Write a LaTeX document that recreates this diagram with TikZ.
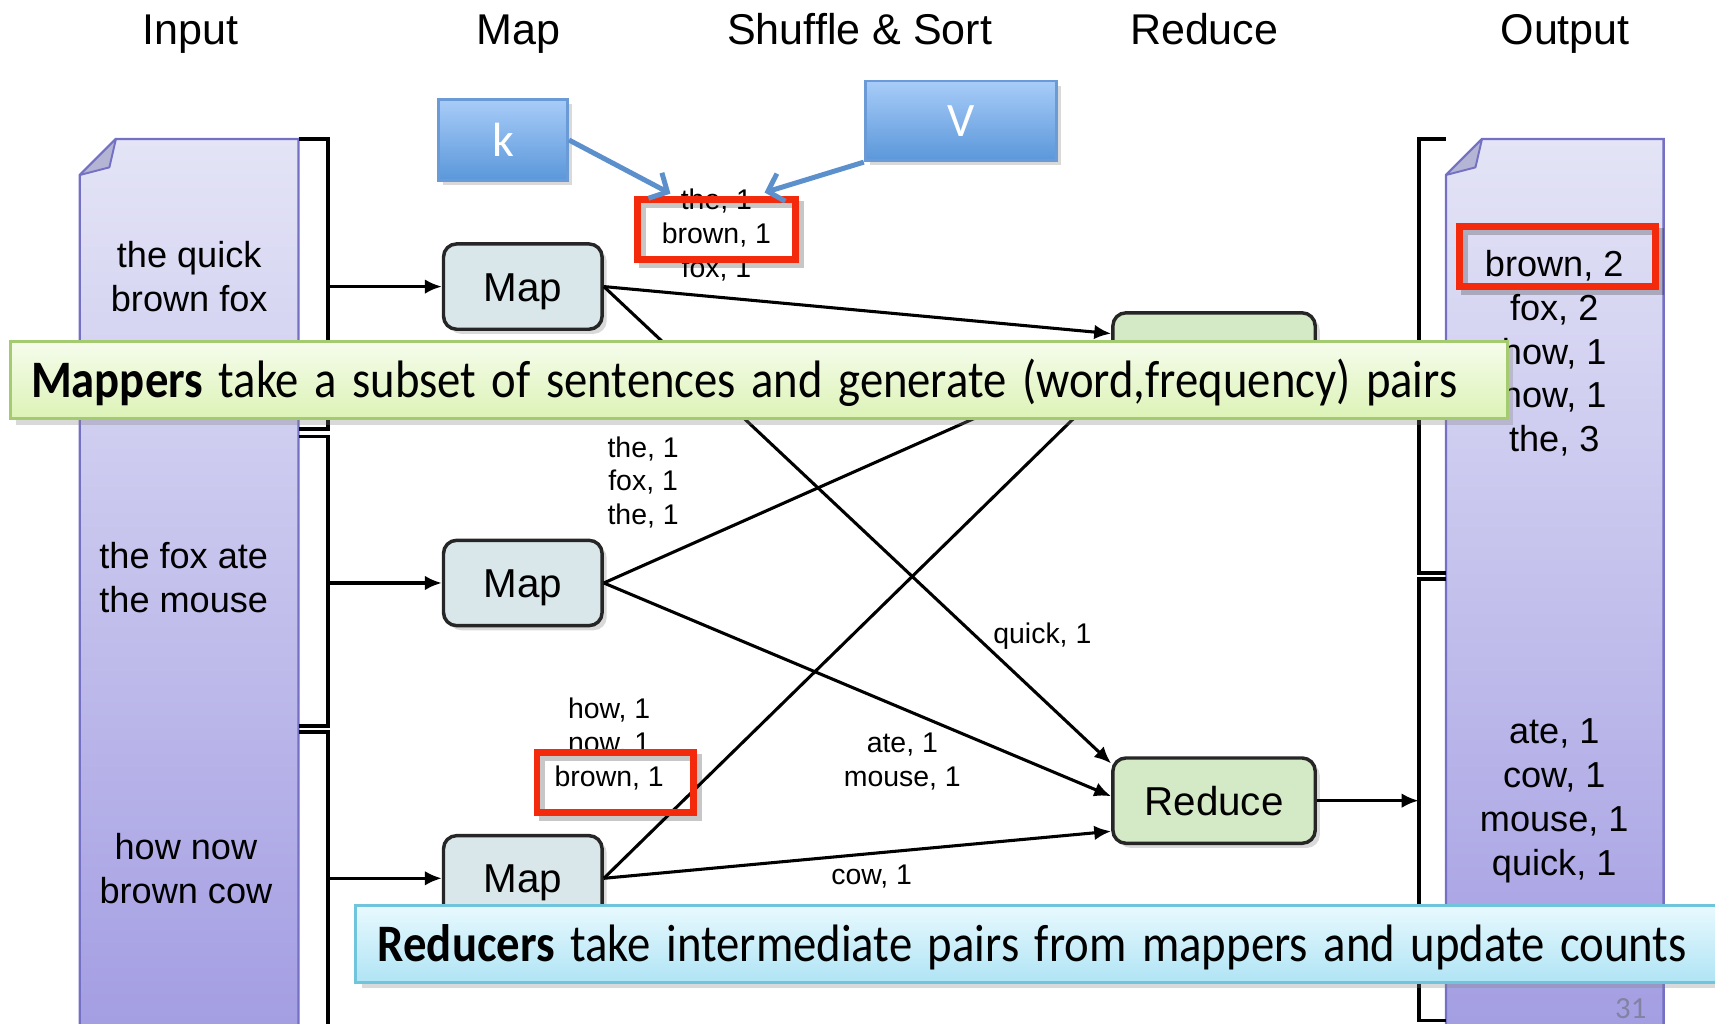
\documentclass[tikz,border=0pt]{standalone}
\usepackage{graphicx}
\usepackage{fontspec}
\setmainfont{Liberation Sans}
\newfontfamily\calibri{Carlito}
\usetikzlibrary{arrows.meta,shadows,calc}

\definecolor{doctop}{HTML}{E4E4F6}
\definecolor{docbot}{HTML}{A29CE2}
\definecolor{docedge}{HTML}{7470C4}
\definecolor{foldfill}{HTML}{B4B4D4}
\definecolor{mapfill}{HTML}{D9E7EB}
\definecolor{redfill}{HTML}{D4E9C5}
\definecolor{kvtop}{HTML}{A8CCF8}
\definecolor{kvbot}{HTML}{5A97DA}
\definecolor{kvedge}{HTML}{6A9BD6}
\definecolor{kvline}{HTML}{5C90CC}
\definecolor{mtop}{HTML}{F6FCEC}
\definecolor{mbot}{HTML}{DCF3B6}
\definecolor{medge}{HTML}{A5CB70}
\definecolor{rtop}{HTML}{E8F9FE}
\definecolor{rbot}{HTML}{B0E4F5}
\definecolor{redge}{HTML}{70C4DC}
\definecolor{hlred}{HTML}{F42A0C}
\definecolor{pagegray}{HTML}{8282A2}

% set a line in a box and squeeze it horizontally to a given width
\newsavebox\linebox
\newcommand\fitline[2]{%
  \sbox\linebox{#2}%
  \pgfmathsetmacro\fitratio{#1/\the\wd\linebox}%
  \scalebox{\fitratio}[1]{\usebox\linebox}}

\begin{document}
\begin{tikzpicture}[x=0.1mm,y=-0.1mm,
  hdr/.style={font=\fontsize{11.2}{13}\selectfont, inner sep=0pt, anchor=base},
  doctext/.style={font=\fontsize{9.4}{11.4}\selectfont, align=center, inner sep=0pt},
  pair/.style={font=\fontsize{7.4}{8.8}\selectfont, align=center, inner sep=0pt},
  docshape/.style={top color=doctop, bottom color=docbot, draw=docedge, line width=0.6pt},
  fold/.style={fill=foldfill, draw=docedge, line width=0.5pt, line join=round},
  bracket/.style={draw=black, line width=1pt},
  procbox/.style={draw=black!85, line width=0.9pt, rounded corners=3.4pt,
    minimum height=7.8mm, font=\fontsize{10.5}{12}\selectfont,
    text height=7.6pt, text depth=0pt,
    drop shadow={opacity=0.3, shadow xshift=1.2pt, shadow yshift=-1.2pt}},
  mapbox/.style={procbox, fill=mapfill, minimum width=14.5mm},
  redbox/.style={procbox, fill=redfill, minimum width=18.5mm},
  flow/.style={draw=black, line width=0.8pt, -{Latex[length=4.4pt,width=3.8pt]}},
  kvbox/.style={draw=kvedge, line width=0.7pt, top color=kvtop, bottom color=kvbot,
    text=white, font=\calibri\fontsize{12.5}{14}\selectfont,
    drop shadow={opacity=0.3, shadow xshift=1.2pt, shadow yshift=-1.2pt}},
  kvarrow/.style={draw=kvline, line width=1.3pt, -{Straight Barb[length=3.6pt,width=7.5pt]}},
  hlbox/.style={draw=hlred, line width=1.8pt, inner sep=0pt,
    drop shadow={fill=none, draw=black, opacity=0.22, line width=1.8pt, shadow xshift=1.3pt, shadow yshift=-1.3pt}},
  callout/.style={line width=0.8pt, align=left, inner ysep=0pt,
    font=\calibri\fontsize{13.7}{15}\selectfont, text height=10.3pt, text depth=1pt,
    drop shadow={opacity=0.3, shadow xshift=1.5pt, shadow yshift=-1.5pt}},
]
\useasboundingbox (0,0) rectangle (1568,936);
\clip (0,0) rectangle (1568,936);

% column headings
\node[hdr] (hin)  at (174,41)  {Input};
\node[hdr] (hmap) at (474,41)  {Map};
\node[hdr] (hss)  at (786,41)  {Shuffle \& Sort};
\node[hdr] (hred) at (1101,41) {Reduce};
\node[hdr] (hout) at (1431,41) {Output};

% input and output documents with folded corners
\path[docshape] (73,160) -- (106,127) -- (273,127) -- (273,960) -- (73,960) -- cycle;
\path[fold] (73,160) -- (106,127) -- (100,153) -- cycle;
\path[docshape] (1322,160) -- (1355,127) -- (1521,127) -- (1521,960) -- (1322,960) -- cycle;
\path[fold] (1322,160) -- (1355,127) -- (1349,153) -- cycle;

% input split brackets
\draw[bracket] (273,127) -- (300,127) -- (300,392) -- (273,392);
\draw[bracket] (273,399) -- (300,399) -- (300,664) -- (273,664);
\draw[bracket] (273,669) -- (300,669) -- (300,960);
% output partition brackets
\draw[bracket] (1322,127) -- (1297,127) -- (1297,524) -- (1322,524);
\draw[bracket] (1322,529) -- (1297,529) -- (1297,933) -- (1322,933);

% document texts
\node[doctext] (in1) at (173,253) {the quick\\brown fox};
\node[doctext] (in2) at (168,528) {the fox ate\\the mouse};
\node[doctext] (in3) at (170,794) {how now\\brown cow};
\node[doctext] (out1) at (1421,323) {brown, 2\\fox, 2\\how, 1\\now, 1\\the, 3};
\node[doctext] (out2) at (1421,732) {ate, 1\\cow, 1\\mouse, 1\\quick, 1};

% mappers and reducers
\node[mapbox] (m1) at (478,262) {Map};
\node[mapbox] (m2) at (478,533) {Map};
\node[mapbox] (m3) at (478,803) {Map};
\node[redbox] (r1) at (1110,325) {};
\node[redbox] (r2) at (1110,732) {Reduce};

% bracket ends
\coordinate (b1) at (300,262);
\coordinate (b2) at (300,533);
\coordinate (b3) at (300,803);
\coordinate (ob1) at (1297,325);
\coordinate (ob2) at (1297,732);

% data flow
\draw[flow] (b1) -- (m1);
\draw[flow] (b2) -- (m2);
\draw[flow] (b3) -- (m3);
\draw[flow] (m1.east) -- ($(r1.west)+(0,-20)$);
\draw[flow] (m1.east) -- ($(r2.west)+(0,-34)$);
\draw[flow] (m2.east) -- ($(r1.west)+(0,2)$);
\draw[flow] (m2.east) -- ($(r2.west)+(0,-4)$);
\draw[flow] (m3.east) -- ($(r1.west)+(0,24)$);
\draw[flow] (m3.east) -- ($(r2.west)+(0,28)$);
\draw[flow] (r1) -- (ob1);
\draw[flow] (r2) -- (ob2);

% intermediate pairs
\node[pair] (p1) at (655,215) {the, 1\\brown, 1\\fox, 1};
\node[pair] (p2) at (588,441) {the, 1\\fox, 1\\the, 1};
\node[pair] (p3) at (557,680) {how, 1\\now, 1\\brown, 1};
\node[pair] (p4) at (953,582) {quick, 1};
\node[pair] (p5) at (825,696) {ate, 1\\mouse, 1};
\node[pair] (p6) at (797,801) {cow, 1};

% highlights
\node[hlbox, minimum width=14.4mm, minimum height=5.5mm] (hl1) at (655,209.5) {};
\node[hlbox, minimum width=14.3mm, minimum height=5.5mm] (hl2) at (562.5,715.5) {};
\node[hlbox, minimum width=18mm, minimum height=5.5mm] (hl3) at (1424,234.5) {};

% key / value tags
\node[kvbox, minimum width=11.8mm, minimum height=7.4mm] (k) at (460,128) {k};
\node[kvbox, minimum width=17.5mm, minimum height=7.3mm] (v) at (878.5,110.5) {V};
\coordinate (kt) at (613,177);
\coordinate (vt) at (699,176);
\draw[kvarrow] (k.east) -- (kt);
\draw[kvarrow] (v.south west) -- (vt);

% explanatory callouts
\node[callout, draw=medge, top color=mtop, bottom color=mbot, anchor=west,
  minimum width=136.9mm, minimum height=7.1mm, inner xsep=1.9mm, text width=133.1mm]
  (mtip) at (8,347.5) {\fitline{130.4mm}{\textbf{Mappers} take a subset of sentences and generate (word,frequency) pairs}};
\node[callout, draw=redge, top color=rtop, bottom color=rbot, anchor=west,
  minimum width=125.6mm, minimum height=7mm, inner xsep=2mm, text width=121.6mm]
  (rtip) at (324,863) {\fitline{119.7mm}{\textbf{Reducers} take intermediate pairs from mappers and update counts}};

% slide number
\node[font=\calibri\fontsize{8}{9}\selectfont, text=pagegray, inner sep=0pt] (pg) at (1491,922) {31};
\end{tikzpicture}
\end{document}
